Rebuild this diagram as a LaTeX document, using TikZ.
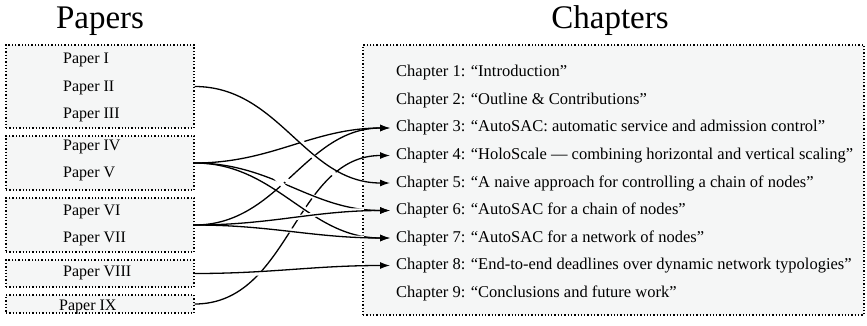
\documentclass[tikz,border=0pt]{standalone}
\usepackage{fontspec}
\setmainfont{Liberation Serif}
\usetikzlibrary{arrows.meta}
\definecolor{boxfill}{HTML}{F5F6F6}
\newcommand\headsize{\fontsize{33}{40}\selectfont}
% a connector drawn over a white halo, so that it cuts the lines beneath it
\newcommand\linkover[2]{%
  \draw[halo] (#1.east) to[out=0,in=180] ([xshift=-6pt]#2.west);
  \draw[link] (#1.east) to[out=0,in=180] ([xshift=-6pt]#2.west);}
\begin{document}
\begin{tikzpicture}[x=1pt,y=-1pt,
  title/.style={inner sep=0pt, anchor=base},
  group/.style={draw=black, dotted, line width=1.3pt, fill=boxfill, inner sep=0pt},
  entry/.style={font=\fontsize{16}{19}\selectfont, inner sep=0pt, anchor=west},
  chap/.style={font=\fontsize{16.5}{19}\selectfont, inner sep=0pt, anchor=west},
  link/.style={line width=1.3pt, -{Latex[length=10pt,width=7pt]}},
  halo/.style={draw=white, line width=4.5pt, shorten <=60pt, shorten >=26pt}]
\useasboundingbox (0,0) rectangle (867,325);

% column titles
\node[title] (tp) at (100,28) {\headsize Papers};
\node[title] (tc) at (610,28) {\headsize Chapters};

% paper groups
\node[group, minimum width=188pt, minimum height=83pt] (b1) at (100,86.5) {};
\node[group, minimum width=188pt, minimum height=54pt] (b2) at (100,163) {};
\node[group, minimum width=188pt, minimum height=54pt] (b3) at (100,225) {};
\node[group, minimum width=188pt, minimum height=27pt] (b4) at (100,273.5) {};
\node[group, minimum width=188pt, minimum height=18pt] (b5) at (100,304) {};

\node[entry] (p1) at (63,60) {Paper I};
\node[entry] (p2) at (63,88) {Paper II};
\node[entry] (p3) at (63,115) {Paper III};
\node[entry] (p4) at (63,147) {Paper IV};
\node[entry] (p5) at (63,174) {Paper V};
\node[entry] (p6) at (63,212) {Paper VI};
\node[entry] (p7) at (63,239) {Paper VII};
\node[entry] (p8) at (63,273) {Paper VIII};
\node[entry] (p9) at (59,307) {Paper IX};

% chapter list
\node[group, minimum width=501pt, minimum height=270pt] (cb) at (613.5,180) {};
\node[chap] (c1) at (396,73) {Chapter 1: “Introduction”};
\node[chap] (c2) at (396,100.5) {Chapter 2: “Outline \& Contributions”};
\node[chap] (c3) at (396,128) {Chapter 3: “AutoSAC: automatic service and admission control”};
\node[chap] (c4) at (396,155.5) {Chapter 4: “HoloScale — combining horizontal and vertical scaling”};
\node[chap] (c5) at (396,183) {Chapter 5: “A naive approach for controlling a chain of nodes”};
\node[chap] (c6) at (396,210.5) {Chapter 6: “AutoSAC for a chain of nodes”};
\node[chap] (c7) at (396,238) {Chapter 7: “AutoSAC for a network of nodes”};
\node[chap] (c8) at (396,265.5) {Chapter 8: “End-to-end deadlines over dynamic network typologies”};
\node[chap] (c9) at (396,293) {Chapter 9: “Conclusions and future work”};

% links from papers to chapters, lowest layer first
\draw[link] (b3.east) to[out=0,in=180] ([xshift=-6pt]c3.west);
\draw[link] (b5.east) to[out=0,in=180] ([xshift=-6pt]c4.west);
\draw[link] (b2.east) to[out=0,in=180] ([xshift=-6pt]c3.west);
\linkover{b1}{c5}
\linkover{b2}{c6}
\linkover{b2}{c7}
\linkover{b3}{c6}
\linkover{b3}{c7}
\linkover{b4}{c8}
\end{tikzpicture}
\end{document}
